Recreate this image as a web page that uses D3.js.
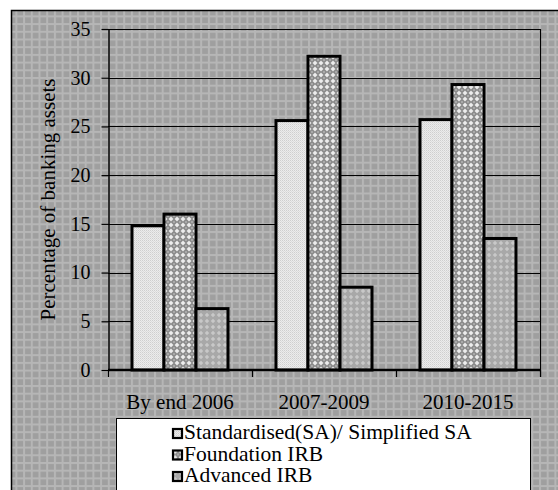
<!DOCTYPE html>
<html><head><meta charset="utf-8">
<script src="https://cdn.jsdelivr.net/npm/d3@7"></script>
<style>body{margin:0;background:#fff}svg{display:block}</style>
</head><body><svg id="c" width="558" height="490" font-family="Liberation Serif"></svg>
<script>
const categories = ["By end 2006", "2007-2009", "2010-2015"];
const seriesNames = ["Standardised(SA)/ Simplified SA", "Foundation IRB", "Advanced IRB"];
const saValues = [14.8, 25.6, 25.7];
const foundationValues = [16.0, 32.2, 29.3];
const advancedValues = [6.3, 8.5, 13.5];
const yTicks = [0, 5, 10, 15, 20, 25, 30, 35];
const yTitle = "Percentage of banking assets";

(function () {
const FONT = "Liberation Serif";
const series = [saValues, foundationValues, advancedValues];
const svg = d3.select("#c");
const defs = svg.append("defs");

const bg = defs.append("pattern").attr("id","bg").attr("patternUnits","userSpaceOnUse").attr("width",7.7).attr("height",7.7);
bg.append("rect").attr("width",7.7).attr("height",7.7).attr("fill","#b6b6b6");
bg.append("rect").attr("x",2).attr("y",2).attr("width",5.7).attr("height",5.7).attr("fill","#9f9f9f");

const p0 = defs.append("pattern").attr("id","p0").attr("patternUnits","userSpaceOnUse").attr("width",2).attr("height",2);
p0.append("rect").attr("width",2).attr("height",2).attr("fill","#ececec");
p0.append("rect").attr("width",1).attr("height",1).attr("fill","#cfcfcf");
p0.append("rect").attr("x",1).attr("y",1).attr("width",1).attr("height",1).attr("fill","#dcdcdc");
const p1 = defs.append("pattern").attr("id","p1").attr("patternUnits","userSpaceOnUse").attr("width",6).attr("height",6);
p1.append("rect").attr("width",6).attr("height",6).attr("fill","#8a8a8a");
p1.append("path").attr("d","M3,0.5 L5.5,3 L3,5.5 L0.5,3 Z").attr("fill","#e8e8e8");
p1.append("rect").attr("x",2.5).attr("y",2.5).attr("width",1).attr("height",1).attr("fill","#ffffff");
p1.append("path").attr("d","M0,0 L1,0 L0,1 Z M6,0 L5,0 L6,1 Z M0,6 L1,6 L0,5 Z M6,6 L5,6 L6,5 Z").attr("fill","#c8c8c8");
const p2 = defs.append("pattern").attr("id","p2").attr("patternUnits","userSpaceOnUse").attr("width",6).attr("height",6);
p2.append("rect").attr("width",6).attr("height",6).attr("fill","#a8a8a8");
p2.append("path").attr("d","M3,0.8 L5.2,3 L3,5.2 L0.8,3 Z").attr("fill","#c8c8c8");

svg.append("rect").attr("x",11.5).attr("y",10.5).attr("width",560).attr("height",500).attr("fill","url(#bg)").attr("stroke","#000").attr("stroke-width",1.5);

const pl = 108, pr = 540, pt = 29, pb = 370;
const x = d3.scaleBand().domain(categories).range([pl, pr]).paddingInner(0).paddingOuter(0);
const x1 = d3.scaleBand().domain(d3.range(seriesNames.length)).range([24, x.bandwidth() - 24]).padding(0);
const y = d3.scaleLinear().domain([0, 35]).range([pb, pt]);

svg.append("g").selectAll("line").data(yTicks.filter(d => d > 0)).join("line")
  .attr("x1", pl).attr("x2", pr).attr("y1", d => Math.round(y(d)) + 0.5).attr("y2", d => Math.round(y(d)) + 0.5)
  .attr("stroke", "#000").attr("stroke-width", 1.2);
svg.append("line").attr("x1", pr + 0.5).attr("x2", pr + 0.5).attr("y1", pt).attr("y2", pb + 7).attr("stroke","#000").attr("stroke-width",1.2);

const yAxis = svg.append("g").attr("transform", `translate(${pl + 0.5},0)`)
  .call(d3.axisLeft(y).tickValues(yTicks).tickSize(7).tickPadding(11).tickSizeOuter(0));
yAxis.attr("font-family", FONT).attr("font-size", 20);
yAxis.select(".domain").attr("stroke","#000").attr("stroke-width",1.5);
yAxis.selectAll(".tick line").attr("stroke","#000").attr("stroke-width",1.2);
yAxis.selectAll("text").attr("font-size", 20).attr("font-family", FONT).attr("fill","#000");

const groups = svg.append("g").selectAll("g").data(categories).join("g")
  .attr("transform", d => `translate(${x(d)},0)`);
groups.selectAll("rect").data((c, i) => series.map((s, k) => ({k, v: s[i]}))).join("rect")
  .attr("x", d => x1(d.k)).attr("width", x1.bandwidth())
  .attr("y", d => y(d.v)).attr("height", d => y(0) - y(d.v))
  .attr("fill", d => `url(#p${d.k})`).attr("stroke", "#000").attr("stroke-width", 3);

svg.append("line").attr("x1", pl).attr("x2", pr + 1).attr("y1", pb).attr("y2", pb).attr("stroke","#000").attr("stroke-width",2.5);
const bounds = categories.map(c => x(c)).concat([x.range()[1]]);
svg.append("g").selectAll("line").data(bounds).join("line")
  .attr("x1", d => d + 0.5).attr("x2", d => d + 0.5).attr("y1", pb).attr("y2", pb + 7)
  .attr("stroke","#000").attr("stroke-width",1.2);
const xAxis = svg.append("g").attr("transform", `translate(0,${pb})`)
  .call(d3.axisBottom(x).tickSize(0).tickPadding(24));
xAxis.attr("font-family", FONT).attr("font-size", 21);
xAxis.select(".domain").remove();
xAxis.selectAll("text").attr("font-size", 21).attr("font-family", FONT).attr("fill","#000");

svg.append("text").attr("transform", `translate(55,${(pt + pb) / 2}) rotate(-90)`)
  .attr("text-anchor","middle").attr("font-size", 21).attr("font-family", FONT).text(yTitle);

svg.append("rect").attr("x",116.5).attr("y",418.5).attr("width",414).attr("height",90).attr("fill","#fff").attr("stroke","#000").attr("stroke-width",1);
const lg = svg.append("g").selectAll("g").data(seriesNames).join("g")
  .attr("transform", (d, i) => `translate(172,${433 + i * 21.5})`);
lg.append("rect").attr("x",1).attr("y",-4).attr("width",9).attr("height",9)
  .attr("fill", (d, i) => `url(#p${i})`).attr("stroke","#000").attr("stroke-width",2.2);
lg.append("text").attr("x",12).attr("y",6).attr("font-size",21.5).attr("font-family", FONT).text(d => d);
})();
</script></body></html>
